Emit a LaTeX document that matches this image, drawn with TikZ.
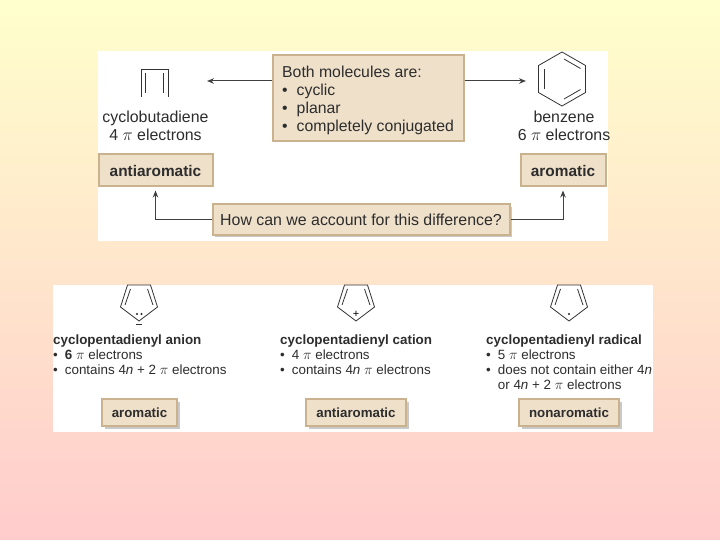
\documentclass[tikz,border=0pt]{standalone}
\usepackage{fontspec}
\setmainfont{Liberation Sans}
\usetikzlibrary{shadows,arrows.meta}
\definecolor{boxfill}{RGB}{239,224,202}
\definecolor{boxline}{RGB}{203,178,142}
\definecolor{inktext}{RGB}{45,45,45}
\tikzset{
  tanbox/.style={draw=boxline,fill=boxfill,line width=2pt,inner sep=0pt,text=inktext},
  softshadow/.style={drop shadow={shadow xshift=2.5pt,shadow yshift=-2.5pt,fill=black!60,opacity=.35}},
  conn/.style={draw=black!75,line width=1pt,-{Stealth[length=7pt,width=5.5pt]},shorten >=3pt},
  bond/.style={draw=black!80,line width=.8pt},
  caption/.style={inner sep=0pt,text=inktext,align=center,font=\fontsize{15.9}{18}\selectfont},
  item/.style={inner sep=0pt,anchor=north west,text=inktext,align=left,font=\fontsize{13.4}{15}\selectfont},
}
\begin{document}
\begin{tikzpicture}[x=1pt,y=-1pt]
\useasboundingbox (0,0) rectangle (720,540);
\fill[top color={rgb,255:red,255;green,255;blue,204},bottom color={rgb,255:red,255;green,204;blue,204}] (0,0) rectangle (720,540);
% panels
\fill[white] (98,51) rectangle (608,241);
\fill[white] (53,285) rectangle (653,432);
% upper boxes
\node (both) [tanbox,minimum width=191pt,minimum height=86pt] at (368,98.5) {};
\node (bothtext) [inner sep=0pt,anchor=north west,text=inktext,align=left,font=\fontsize{15.8}{18}\selectfont] at (282,65.5) {Both molecules are:\\•\kern9pt cyclic\\•\kern9pt planar\\•\kern9pt completely conjugated};
\node (antibox) [tanbox,minimum width=114pt,minimum height=32pt,font=\fontsize{15.4}{17}\selectfont\bfseries] at (155.5,170.5) {antiaromatic};
\node (arobox) [tanbox,minimum width=85pt,minimum height=32pt,font=\fontsize{15.4}{17}\selectfont\bfseries] at (563,170.5) {aromatic};
\node (how) [tanbox,softshadow,minimum width=297pt,minimum height=30pt,font=\fontsize{15.9}{18}\selectfont] at (361,219.5) {How can we account for this difference?};
% captions
\node (cyclo) [caption] at (155.5,126) {cyclobutadiene\\4 $\pi$ electrons};
\node (benz) [caption] at (564,126) {benzene\\6 $\pi$ electrons};
% connectors
\coordinate (cycloend) at (207,81);
\coordinate (benzend) at (526,81);
\draw[conn,shorten >=0pt] (both.west|-cycloend) -- (cycloend);
\draw[conn,shorten >=0pt] (both.east|-benzend) -- (benzend);
\draw[conn] (how.west) -| (antibox.south);
\draw[conn] (how.east) -| (arobox.south);
% cyclobutadiene
\draw[bond] (141,97) -- (141,69) -- (168.5,69) -- (168.5,97);
\draw[bond] (145,73) -- (145,93);
\draw[bond] (163,73) -- (163,93);
% benzene
\draw[bond] (562,52) -- (585.5,65.5) -- (585.5,92.5) -- (562,106) -- (538.5,92.5) -- (538.5,65.5) -- cycle;
\draw[bond] (544.5,69) -- (544.5,89);
\draw[bond] (564,59) -- (580.5,68.5);
\draw[bond] (564,99) -- (580.5,89.5);
% five rings
\foreach \cx in {139,356,569}
{
\draw[bond] (\cx-11.5,285) -- (\cx+11.5,285) -- (\cx+18.5,307) -- (\cx,321) -- (\cx-18.5,307) -- cycle;
\draw[bond] (\cx-14,305) -- (\cx-8.5,289);
\draw[bond] (\cx+14,305) -- (\cx+8.5,289);
}
\fill[black!85] (137,314) circle (1.2pt);
\fill[black!85] (141.5,314) circle (1.2pt);
\draw[bond] (136,324) -- (142,324);
\node (plus) [inner sep=0pt,font=\fontsize{11}{11}\selectfont] at (356,314) {+};
\fill[black!85] (569,314) circle (1.2pt);
% lower lists
\node (anion) [item] at (53,335) {\textbf{cyclopentadienyl anion}\\•\kern7pt\textbf{6} $\pi$ electrons\\•\kern7pt contains 4\textit{n} + 2 $\pi$ electrons};
\node (cation) [item] at (280,335) {\textbf{cyclopentadienyl cation}\\•\kern7pt 4 $\pi$ electrons\\•\kern7pt contains 4\textit{n} $\pi$ electrons};
\node (radical) [item] at (486,335) {\textbf{cyclopentadienyl radical}\\•\kern7pt 5 $\pi$ electrons\\•\kern7pt does not contain either 4\textit{n}\\\phantom{•}\kern7pt or 4\textit{n} + 2 $\pi$ electrons};
% lower boxes
\node (arolow) [tanbox,softshadow,minimum width=75pt,minimum height=27pt,font=\fontsize{13.3}{15}\selectfont\bfseries] at (139.5,412.5) {aromatic};
\node (antilow) [tanbox,softshadow,minimum width=100pt,minimum height=27pt,font=\fontsize{13.3}{15}\selectfont\bfseries] at (356,412.5) {antiaromatic};
\node (nonlow) [tanbox,softshadow,minimum width=100pt,minimum height=27pt,font=\fontsize{13.3}{15}\selectfont\bfseries] at (569,412.5) {nonaromatic};
\end{tikzpicture}
\end{document}
